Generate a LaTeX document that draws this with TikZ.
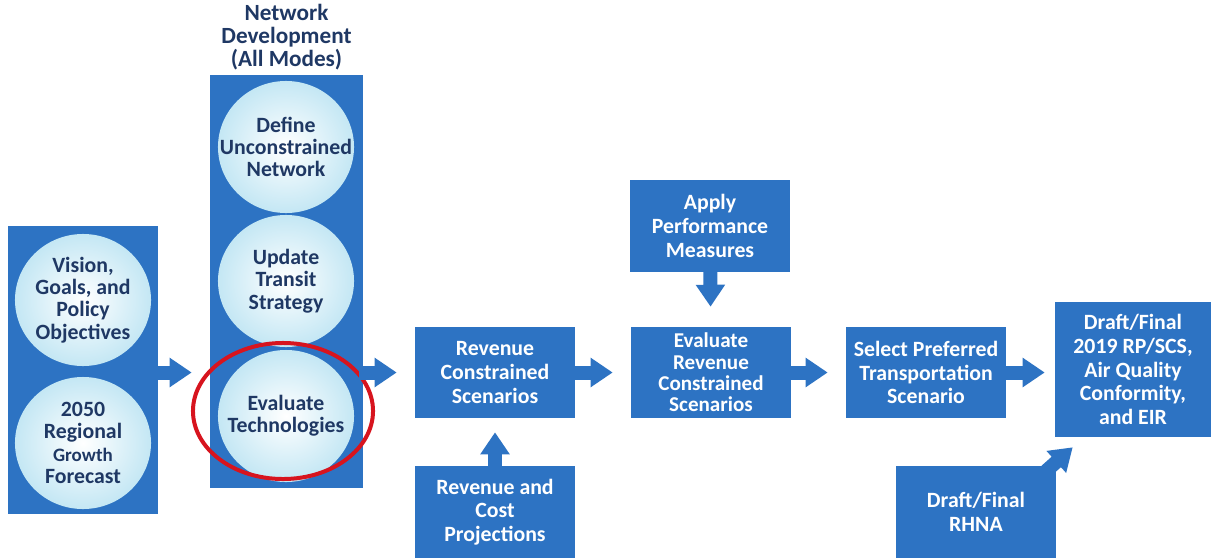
\documentclass[tikz,border=0pt]{standalone}
\usepackage{fontspec}
\setmainfont{Carlito}
\usepackage{tikz}
\usetikzlibrary{shapes.geometric, arrows.meta, positioning}
\definecolor{boxcolor}{RGB}{45, 115, 195}
\definecolor{bubblecolor}{RGB}{196, 231, 244}
\definecolor{navycolor}{RGB}{31, 56, 100}
\definecolor{markcolor}{RGB}{215, 20, 30}

\begin{document}
\begin{tikzpicture}[
    x=0.025cm, y=-0.025cm,
    panel/.style={fill=boxcolor, inner sep=0pt},
    bubble/.style={ellipse, inner color=white, outer color=bubblecolor, minimum width=3.4cm, minimum height=3.3cm, inner xsep=-0.5cm, inner ysep=0pt, align=center, text=navycolor, font=\bfseries\fontsize{15.5}{15.8}\selectfont},
    stage/.style={fill=boxcolor, minimum width=4cm, minimum height=2.275cm, inner sep=0pt, align=center, text=white, font=\bfseries\fontsize{15.5}{16.9}\selectfont},
    flow/.style={draw=boxcolor, line width=0.35cm, -{Triangle[length=0.55cm, width=0.7cm]}, shorten >=0.45cm}
]
    \useasboundingbox (0,0) rectangle (1214,559);

    % Inputs panel
    \node[panel, minimum width=3.75cm, minimum height=7.2cm] (inputs) at (83,370) {};
    \node[bubble] (vision) at (83,300) {Vision,\\Goals, and\\Policy\\Objectives};
    \node[bubble] (growth) at (83,443) {2050\\Regional\\{\fontsize{13.5}{15.8}\selectfont Growth}\\Forecast};

    % Network development panel
    \node[panel, minimum width=3.825cm, minimum height=10.3cm] (network) at (286.5,281.5) {};
    \node[font=\bfseries\fontsize{16.5}{16.6}\selectfont, text=navycolor, align=center] (nettitle) at (286.5,37) {Network\\Development\\(All Modes)};
    \node[bubble] (define) at (286,147) {Define\\Unconstrained\\Network};
    \node[bubble] (transit) at (286,281) {Update\\Transit\\Strategy};
    \node[bubble] (evaltech) at (286,416) {Evaluate\\Technologies};
    \node[draw=markcolor, line width=0.1cm, ellipse, minimum width=4.5cm, minimum height=3.4cm] (focus) at (283,411) {};

    % Scenario stages
    \node[stage] (rcs) at (495,372.5) {Revenue\\Constrained\\Scenarios};
    \node[stage, font=\bfseries\fontsize{15}{15.2}\selectfont] (erc) at (711,372.5) {Evaluate\\Revenue\\Constrained\\Scenarios};
    \node[stage] (spt) at (926,372.5) {Select Preferred\\Transportation\\Scenario};
    \node[stage, minimum width=3.9cm, minimum height=3.375cm] (final) at (1133,369.5) {Draft/Final\\2019 RP/SCS,\\Air Quality\\Conformity,\\and EIR};

    % Side inputs
    \node[stage] (apm) at (710,226) {Apply\\Performance\\Measures};
    \node[stage] (rcp) at (495,512) {Revenue and\\Cost\\Projections};
    \node[stage] (rhna) at (976,512) {Draft/Final\\RHNA};

    % Arrows
    \draw[flow] (inputs.east |- rcs.west) -- (network.west |- rcs.west);
    \draw[flow] ([xshift=-0.1cm]network.east |- rcs.west) -- (rcs.west);
    \draw[flow] (rcs) -- (erc);
    \draw[flow] (erc) -- (spt);
    \draw[flow, shorten >=0.25cm] (spt) -- (final.west |- spt.east);
    \draw[flow, shorten >=0.35cm] (rcp) -- (rcs);
    \draw[flow, shorten >=0.5cm] (apm) -- (erc);
    \draw[flow, shorten >=0cm] ([xshift=-0.4cm, yshift=-0.25cm]rhna.north east) -- ([xshift=0.45cm, yshift=-0.25cm]final.south west);

\end{tikzpicture}
\end{document}
